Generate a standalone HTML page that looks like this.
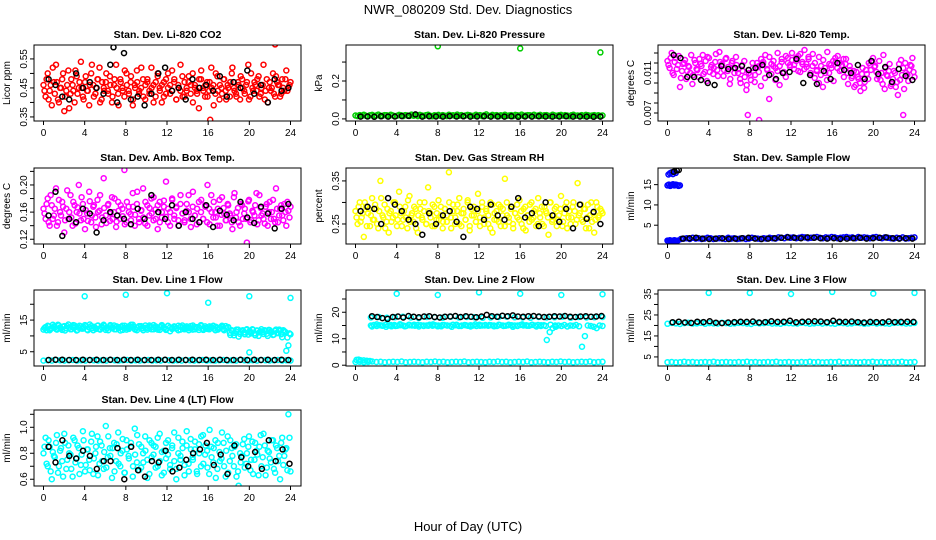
<!DOCTYPE html>
<html><head><meta charset="utf-8"><style>
html,body{margin:0;padding:0;background:#fff;}
svg{display:block;font-family:"Liberation Sans",Arial,sans-serif;}
</style></head><body>
<svg id="chart" width="936" height="540" viewBox="0 0 936 540" xmlns="http://www.w3.org/2000/svg">
<rect x="0" y="0" width="936" height="540" fill="#fff"/>
<text x="468" y="14" font-size="13" text-anchor="middle">NWR_080209  Std. Dev. Diagnostics</text>
<text x="468" y="531" font-size="13" text-anchor="middle">Hour of Day (UTC)</text>
</svg>
<script>
// ---- data (values as typed codes with a unit scale) ----
const xTicks = [0,4,8,12,16,20,24];
const co2Red = "46 42 50 44 39 47 53 41 45 48 37 44 51 43 46 40 49 45 54 42 47 44 39 50 46 43 48 52 41 45 47 44 49 40 46 53 43 48 45 42 50 44 47 39 46 51 43 45 48 41 47 44 52 46 42 49 45 40 47 43 50 46 44 48 41 45 53 42 47 44 49 46 40 45 43 48 51 44 46 42 47 45 39 50 44 46 43 48 41 45 47 52 44 42 46 49 45 43 47 41 50 44 46 48 42 45 53 44 40 47 45 43 49 46 42 48 44 51 45 47";
const co2Red2 = "44 48 41 46 52 43 47 40 45 50 42 46 38 48 44 51 43 47 45 41 49 44 46 53 42 45 48 40 47 44 50 43 46 42 48 45 39 47 44 51 46 43 49 41 45 47 44 52 42 46 48 43 45 40 47 50 44 46 42 48 45 43 51 47 41 46 44 49 42 45 47 43 50 46 44 38 48 45 42 47 44 52 46 43 49 41 45 48 44 46 42 50 45 43 47 41 48 44 46 53 42 45 47 44 49 43 46 41 48 45 44 50 42 47 46 43 45 48 44 46";
const co2RedOutHours = [16.2, 22.5];
const co2RedOutVals = [0.34, 0.60];
const co2Black = "48 46 42 41 50 45 47 45 43 53 40 57 41 42 39 43 50 52 44 45 41 48 45 46 44 49 42 47 45 51 43 46 40 48 44 45";
const co2BlackOutHours = [6.8];
const co2BlackOutVals = [0.59];

const presGreen = "18 15 20 16 22 17 14 19 21 16 18 23 15 17 20 19 16 22 18 14 17 21 19 15 20 18 16 23 17 19 15 21 18 16 20 22 17 14 19 18 21 16 20 17 15 22 18 19 16 23 17 20 15 18 21 19 16 17 22 18 20 15 19 24 17 16 21 18 20 14 19 17 22 16 18 20 15 21 19 17 23 16 18 20 19 15 22 17 18 21 16 19 20 17 15 22 18 16 19 21 17 20 18 14 19 22 16 18 17 20 15 21 19 16 18 20 17 19 16 18";
const presGreenOutHours = [8, 16, 23.8];
const presGreenOutVals = [0.383, 0.372, 0.351];
const presBlack = "12 13 11 14 12 13 15 16 24 12 14 13 12 15 13 14 12 13 14 12 13 12 14 11 13 12 14 13 12 13 14 12 13 12 11 12";

const tempMag = "122 115 130 108 125 118 96 112 120 104 117 110 99 123 114 106 119 128 111 102 125 116 109 121 113 131 118 107 124 112 99 120 115 126 110 104 118 122 93 113 108 120 101 116 111 97 119 105 114 84 109 117 103 112 98 121 110 106 125 118 130 114 122 127 111 119 133 116 124 108 129 120 113 126 117 123 110 131 119 115 102 121 127 112 118 106 124 99 113 107 96 111 104 92 115 101 109 120 113 125 117 104 122 110 128 115 107 119 99 112 96 88 103 108 94 110 102 118 125 106";
const tempMag2 = "118 125 110 121 114 127 105 119 123 112 116 128 108 120 113 124 117 109 122 126 111 118 115 129 107 121 119 113 125 116 104 122 110 118 114 100 112 106 98 110 103 115 108 120 117 124 121 128 113 126 119 122 115 130 117 124 111 127 120 116 123 118 125 112 129 121 114 119 126 110 117 105 112 100 108 96 115 103 110 118 122 125 115 120 113 124 119 110 117 105 112 98 106 100 109 95 113 104 118 121 116 111 107 103 99 94 108 112 97 104 110 101 119 123 115 120 108 113 117 111";
const tempMagOutHours = [7.8, 8.9, 22.9];
const tempMagOutVals = [0.0068, 0.0063, 0.0068];
const tempBlack = "128 125 106 106 103 100 98 117 114 115 117 113 115 118 108 104 110 111 124 100 108 99 112 104 120 113 110 118 104 122 109 116 101 114 107 103";

const ambMag = "165 150 180 140 170 155 195 145 160 175 130 165 150 185 140 170 160 200 148 172 135 158 190 145 168 152 178 162 142 210 155 170 147 182 160 138 175 150 165 222 145 168 157 188 140 172 150 162 195 143 170 155 180 148 164 135 175 152 168 205 145 160 178 150 166 140 185 158 148 172 160 138 190 155 165 145 178 150 168 200 142 160 175 152 165 140 182 158 148 170 155 135 188 160 145 172 150 165 115 178 148 160 170 142 185 155 150 168 140 175 160 150 195 145 165 155 172 140 162 168";
const ambMag2 = "158 172 145 185 150 165 140 178 155 168 148 192 160 152 175 143 167 158 182 150 163 147 176 155 170 138 160 185 152 166 144 172 158 150 180 146 162 170 154 142 175 160 148 168 156 190 145 163 152 175 140 166 158 182 150 170 145 160 177 153 165 140 180 155 168 148 172 158 145 162 185 150 168 155 142 175 160 150 170 145 165 185 152 160 140 178 156 166 148 172 158 145 182 152 166 140 170 158 150 176 145 162 155 188 148 166 158 143 172 160 150 178 145 165 155 170 148 160 175 152";
const ambBlack = "155 190 125 150 145 165 158 130 148 160 155 150 142 165 150 185 160 150 170 140 160 150 145 170 138 162 156 148 175 152 144 168 158 136 165 172";

const rhYel = "280 250 300 265 220 290 275 245 310 260 285 240 350 270 295 255 230 280 265 300 245 325 275 260 290 240 315 270 255 285 230 300 265 280 250 335 275 245 290 260 305 270 240 285 255 370 265 295 250 280 310 245 275 260 300 235 285 270 255 320 245 290 265 280 250 300 230 275 260 295 245 285 355 270 255 290 240 275 265 305 250 285 235 270 295 260 280 245 310 265 250 290 275 225 300 260 285 245 270 315 255 290 240 280 265 300 250 345 275 260 285 240 295 270 255 230 300 265 285 275";
const rhYel2 = "265 290 255 275 300 245 285 270 260 295 250 280 310 265 240 285 275 255 300 270 260 290 245 280 265 305 255 275 290 240 270 285 260 300 250 280 265 295 245 275 260 290 255 285 270 300 240 280 265 295 250 275 285 260 305 245 270 290 255 280 265 300 250 285 270 240 295 260 280 255 290 270 245 300 265 285 250 275 295 260 280 240 290 270 255 300 265 285 250 275 290 245 280 265 300 255 270 290 260 285 245 275 300 265 250 290 280 260 270 295 255 285 265 240 300 275 260 290 270 280";
const rhBlack = "280 290 285 250 310 295 280 260 250 225 275 250 270 280 255 220 290 285 260 295 270 260 290 310 265 275 245 300 270 255 285 240 295 262 278 250";

const sfBand = "16 17 18 16 19 17 18 16 17 19 18 16 17 18 17 16 19 17 18 16 17 18 16 17 19 18 17 16 18 17 19 18 17 20 19 18 21 19 20 18 19 21 20 18 19 20 21 19 18 20 19 21 20 18 19 20 21 19 20 18 21 19 20 19 18 20 21 19 18 20 19 18 17 19 18 20 17 18 19 20";
const sfEarlyLow = "12 11 13 12 11 12 13 12 11 12";
const sfEarlyMid = "148 150 147 149 151 148 150 149 147 148";
const sfEarlyHigh = "175 178 180 176 182 179";
const sfBlack = "17 18 19 17 16 17 18 16 17 18 19 17 16 17 18 19 20 19 18 20 19 18 17 18 16 17 18 19 17 18 19 20 18 17 18 17";
const sfBlackEarlyHours = [0.6, 0.9, 1.1];
const sfBlackEarlyVals = [18.2, 18.5, 18.6];

const l1High = "120 128 132 118 125 130 122 135 127 119 131 124 136 121 128 133 117 126 130 123 134 120 127 131 118 125 132 122 129 135 119 126 130 124 133 121 128 117 132 125 120 130 127 135 122 118 129 131 124 126 120 133 128 121 130 125 119 134 127 122 131 115 126 129 123 132 120 127 125 130 118 124 133 121 128 126 131 119 125 122 130 127 123 129 120 126 132 118 124 128 103 115 110 120 98 112 118 105 121 113 108 119 102 117 111 121 106 115 100 118 112 104 120 109 116 96 115 53 70 105";
const l1High2 = "125 118 130 122 135 127 120 133 124 129 117 131 126 121 134 128 119 132 123 127 130 118 136 124 129 122 133 120 126 131 125 118 134 127 121 130 124 128 119 132 126 122 135 129 120 127 131 123 118 133 125 129 121 134 126 120 128 131 124 119 132 127 122 130 125 118 129 133 121 126 124 131 120 128 127 119 134 123 130 125 121 128 132 118 126 124 129 122 131 127 110 118 102 114 120 106 116 111 119 104 113 121 108 117 100 115 112 118 107 119 114 103 116 110 120 105 118 112 95 108";
const l1Low = "22 23 22 24 23 22 23 24 22 23 22 24 23 22 23 22 24 23 22 23 24 22 23 22 23 24 22 23 22 24 23 22 23 22 24 23 22 23 24 22 23 22 23 24 22 23 22 24 23 22 23 22 24 23 22 23 24 22 23 22";
const l1Black = "24 25 25 24 24 25 24 25 24 25 24 25 24 25 24 24 25 25 24 25 24 25 24 25 24 25 24 24 25 24 25 24 25 24 25 24";
const l1OutHours = [4, 8, 12, 16, 20, 24, 20];
const l1OutVals = [22.5, 23, 23.5, 20.5, 22.5, 22, 4.8];

const l2Low = "12 13 11 12 14 12 13 11 12 13 12 14 11 12 13 12 11 13 12 14 12 13 11 12 13 12 14 11 12 13 12 11 13 12 14 12 13 11 12 13 12 14 11 12 13 12 11 13 12 14 12 13 11 12 13 12 14 11 12 13";
const l2Mid = "150 152 148 151 149 153 150 147 152 149 151 150 148 153 150 149 152 151 148 150 153 149 151 150 147 152 150 149 153 151 148 150 152 149 151 150 148 153 150 152 149 151 150 148 152 150 149 153 151 150 148 152 150 151 149 153 150 152 148 151 95 125 140 145 150 148 152 146 150 149 152 147 70 110 150 148 145 140 150 148";
const l2Mid2 = "146 154 150 145 152 148 155 147 151 153 146 150 149 154 147 152 150 145 153 148 151 146 154 149 150 152 147 153 148 151 145 150 154 149 152 146 151 148 153 150";
const l2Upper = "180 182 179 181 183 180 178 182 181 179 183 180 182 181 179 180 182 183 181 180 179 182 180 181 183 179 182 180 181 182";
const l2Black = "185 182 178 175 182 184 180 186 183 181 184 185 182 180 183 184 186 182 185 183 181 184 190 185 183 187 185 188 184 183 185 186 184 182 183 185 184 186 183 182 184 185 183 184 186";
const l2EarlyHours = [0.1, 0.3, 0.5, 0.8, 1.1, 1.4];
const l2EarlyVals = [2.0, 2.1, 1.9, 1.8, 1.7, 1.6];
const l2OutHours = [4, 8, 12, 16, 20, 24];
const l2OutVals = [27, 26.5, 27.5, 27, 26.5, 26.8];

const l3Low = "25 26 24 25 27 25 26 24 25 26 25 27 24 25 26 25 24 26 25 27 25 26 24 25 26 25 27 24 25 26 25 24 26 25 27 25 26 24 25 26 25 27 24 25 26 25 24 26 25 27 25 26 24 25 26 25 27 24 25 26";
const l3High = "208 212 210 207 211 213 209 210 212 208 211 210 209 213 211 208 210 212 211 209 207 212 210 211 213 209 210 208 212 211 210 209 213 211 208 210 212 209 211 210 208 212 211 209 210 213 211 208 210 212 209 211 210 208 212 213 211 209 210 212";
const l3Black = "215 218 214 212 218 216 220 213 211 214 216 218 217 219 214 216 220 217 218 222 215 218 219 220 219 216 222 218 217 219 216 214 217 216 215 219 216 217 218 217";
const l3OutHours = [4, 8, 12, 16, 20, 24];
const l3OutVals = [35.5, 35.5, 35, 36, 35.2, 35.5];

const l4Cyan = "80 92 70 85 60 78 88 65 82 74 95 68 86 79 62 90 76 84 71 97 66 83 75 89 64 80 93 72 86 68 101 77 84 61 88 74 96 70 82 65 90 78 85 62 99 73 87 69 80 93 75 64 88 79 85 70 95 63 82 76 90 68 86 74 60 92 78 84 71 97 66 83 75 89 64 80 93 72 86 69 98 77 84 61 88 74 96 70 82 65 90 78 85 62 55 73 87 69 80 93 75 64 88 79 85 70 95 63 82 76 90 68 86 74 60 92 78 84 110 66";
const l4Cyan2 = "85 72 90 66 81 77 94 70 84 62 88 75 80 68 92 73 86 64 79 90 71 83 67 95 76 85 63 89 74 81 69 93 78 84 66 87 72 80 91 65 83 76 88 70 79 94 67 85 73 82 61 90 77 86 69 92 74 81 65 88 79 71 84 96 68 80 75 89 63 86 72 91 77 83 66 87 70 94 79 82 64 85 73 90 68 81 76 88 62 93 74 84 70 87 66 80 78 91 72 85 67 89 75 82 63 94 77 86 69 81 73 90 65 84 78 88 71 83 67 92";
const l4Black = "85 73 90 78 76 82 78 68 74 74 84 60 85 67 62 74 73 82 66 69 75 80 83 88 71 79 64 86 77 70 81 68 90 74 83 72";

// ---- helpers ----
function parse(s, unit){ return s.trim().split(/\s+/).map(v => parseFloat(v) * unit); }
function grid(n, h0, h1){ const a=[]; for(let i=0;i<n;i++){ a.push(n===1?h0:h0+(h1-h0)*i/(n-1)); } return a; }
const NS = "http://www.w3.org/2000/svg";
const svg = document.getElementById('chart');
function mk(tag, attrs, parent){ const e=document.createElementNS(NS,tag); for(const k in attrs){ e.setAttribute(k, attrs[k]); } (parent||svg).appendChild(e); return e; }

const CYAN="#00ffff", RED="#ff0000", GRN="#00cd00", MAG="#ff00ff", YEL="#ffff00", BLU="#0000ff", BLK="#000000";
function S(vals, hours, color){ return {vals, hours, color}; }
function G(str, unit, h0, h1, color){ const v=parse(str,unit); return S(v, grid(v.length,h0,h1), color); }

const colX = [34, 346, 658];
const rowY = [45, 168, 290, 410];
const W = 267, H = 76;

const panels = [
 {c:0,r:0,name:"co2",title:"Stan. Dev. Li-820 CO2",ylab:"Licor ppm",ymin:0.336,ymax:0.598,ticks:[0.35,0.40,0.45,0.50,0.55],labels:["0.35","","0.45","","0.55"],
  series:[G(co2Red,0.01,0,24,RED),G(co2Red2,0.01,0.1,23.9,RED),S(co2RedOutVals,co2RedOutHours,RED),G(co2Black,0.01,0.5,23.8,BLK),S(co2BlackOutVals,co2BlackOutHours,BLK)]},
 {c:1,r:0,name:"pressure",title:"Stan. Dev. Li-820 Pressure",ylab:"kPa",ymin:-0.011,ymax:0.39,ticks:[0,0.1,0.2,0.3],labels:["0.0","","0.2",""],
  series:[G(presGreen,0.001,0,24,GRN),S(presGreenOutVals,presGreenOutHours,GRN),G(presBlack,0.001,0.5,23.8,BLK)]},
 {c:2,r:0,name:"temp",title:"Stan. Dev. Li-820 Temp.",ylab:"degrees C",ymin:0.0062,ymax:0.0138,ticks:[0.007,0.008,0.009,0.010,0.011,0.012,0.013],labels:["0.007","","","","0.011","",""],
  series:[G(tempMag,0.0001,0,24,MAG),G(tempMag2,0.0001,0.1,23.9,MAG),S(tempMagOutVals,tempMagOutHours,MAG),G(tempBlack,0.0001,0.6,23.8,BLK)]},
 {c:0,r:1,name:"ambbox",title:"Stan. Dev. Amb. Box Temp.",ylab:"degrees C",ymin:0.113,ymax:0.225,ticks:[0.12,0.14,0.16,0.18,0.20,0.22],labels:["0.12","","0.16","","0.20",""],
  series:[G(ambMag,0.001,0,24,MAG),G(ambMag2,0.001,0.1,23.9,MAG),G(ambBlack,0.001,0.5,23.8,BLK)]},
 {c:1,r:1,name:"rh",title:"Stan. Dev. Gas Stream RH",ylab:"percent",ymin:0.2035,ymax:0.38,ticks:[0.25,0.30,0.35],labels:["0.25","","0.35"],
  series:[G(rhYel,0.001,0,24,YEL),G(rhYel2,0.001,0.1,23.9,YEL),G(rhBlack,0.001,0.5,23.8,BLK)]},
 {c:2,r:1,name:"sampleflow",title:"Stan. Dev. Sample Flow",ylab:"ml/min",ymin:0.37,ymax:19.1,ticks:[5,10,15],labels:["5","10","15"],
  series:[G(sfBand,0.1,1.3,24,BLU),G(sfEarlyLow,0.1,0,1.0,BLU),G(sfEarlyMid,0.1,0,1.2,BLU),G(sfEarlyHigh,0.1,0.1,0.8,BLU),G(sfBlack,0.1,1.5,23.8,BLK),S(sfBlackEarlyVals,sfBlackEarlyHours,BLK)]},
 {c:0,r:2,name:"line1",title:"Stan. Dev. Line 1 Flow",ylab:"ml/min",ymin:0.5,ymax:24.5,ticks:[5,10,15,20],labels:["5","","15",""],
  series:[G(l1High,0.1,0,24,CYAN),G(l1High2,0.1,0.1,23.9,CYAN),G(l1Low,0.1,0,24,CYAN),S(l1OutVals,l1OutHours,CYAN),G(l1Black,0.1,0.5,23.8,BLK)]},
 {c:1,r:2,name:"line2",title:"Stan. Dev. Line 2 Flow",ylab:"ml/min",ymin:-0.3,ymax:28.4,ticks:[0,5,10,15,20,25],labels:["0","","10","","20",""],
  series:[G(l2Low,0.1,0,24,CYAN),G(l2Mid,0.1,1.5,24,CYAN),G(l2Mid2,0.1,1.6,19.4,CYAN),G(l2Upper,0.1,1.5,24,CYAN),S(l2EarlyVals,l2EarlyHours,CYAN),S(l2OutVals,l2OutHours,CYAN),G(l2Black,0.1,1.6,23.9,BLK)]},
 {c:2,r:2,name:"line3",title:"Stan. Dev. Line 3 Flow",ylab:"ml/min",ymin:0.67,ymax:36.9,ticks:[5,10,15,20,25,30,35],labels:["5","","15","","25","","35"],
  series:[G(l3Low,0.1,0,24,CYAN),G(l3High,0.1,0,24,CYAN),S(l3OutVals,l3OutHours,CYAN),G(l3Black,0.1,0.5,23.9,BLK)]},
 {c:0,r:3,name:"line4",title:"Stan. Dev. Line 4 (LT) Flow",ylab:"ml/min",ymin:0.548,ymax:1.133,ticks:[0.6,0.7,0.8,0.9,1.0,1.1],labels:["0.6","","0.8","","1.0",""],
  series:[G(l4Cyan,0.01,0,24,CYAN),G(l4Cyan2,0.01,0.1,23.9,CYAN),G(l4Black,0.01,0.5,23.9,BLK)]}
];

panels.forEach(p => {
  const x0 = colX[p.c], y0 = rowY[p.r];
  const g = mk('g', {});
  
  
  const xs = h => x0 + 9.5 + h * (247 / 24);
  const ys = v => y0 + H - (v - p.ymin) / (p.ymax - p.ymin) * H;
  const clip = mk('clipPath', {id:'clip-'+p.name}, g);
  mk('rect', {x:x0, y:y0, width:W, height:H}, clip);
  const pts = mk('g', {'clip-path':'url(#clip-'+p.name+')'}, g);
  
  
  p.series.forEach(s => {
    s.vals.forEach((v, i) => {
      const c = mk('circle', {cx:xs(s.hours[i]).toFixed(1), cy:ys(v).toFixed(1), r:2.5, fill:'none', stroke:s.color, 'stroke-width':1.5}, pts);
      
      
    });
  });
  const box = mk('rect', {x:x0, y:y0, width:W, height:H, fill:'none', stroke:'#000', 'stroke-width':1}, g);
  
  
  const t = mk('text', {x:x0 + W/2, y:y0 - 7, 'font-size':10.5, 'font-weight':'bold', 'text-anchor':'middle'}, g);
  t.textContent = p.title;
  
  
  const yl = mk('text', {x:0, y:0, 'font-size':10, 'text-anchor':'middle', transform:'translate('+(x0-24)+','+(y0+H/2)+') rotate(-90)'}, g);
  yl.textContent = p.ylab;
  
  
  mk('line', {x1:xs(0), y1:y0+H, x2:xs(24), y2:y0+H, stroke:'#000'}, g);
  xTicks.forEach(h => {
    mk('line', {x1:xs(h), y1:y0+H, x2:xs(h), y2:y0+H+4, stroke:'#000'}, g);
    const tl = mk('text', {x:xs(h), y:y0+H+15, 'font-size':10, 'text-anchor':'middle'}, g);
    tl.textContent = String(h);
    
    
  });
  p.ticks.forEach((v, i) => {
    const yy = ys(v);
    mk('line', {x1:x0-4, y1:yy, x2:x0, y2:yy, stroke:'#000'}, g);
    if (p.labels[i]) {
      const tl = mk('text', {x:0, y:0, 'font-size':10, 'text-anchor':'middle', transform:'translate('+(x0-7)+','+yy.toFixed(1)+') rotate(-90)'}, g);
      tl.textContent = p.labels[i];
      
      
    }
  });
});
</script>
</body></html>
